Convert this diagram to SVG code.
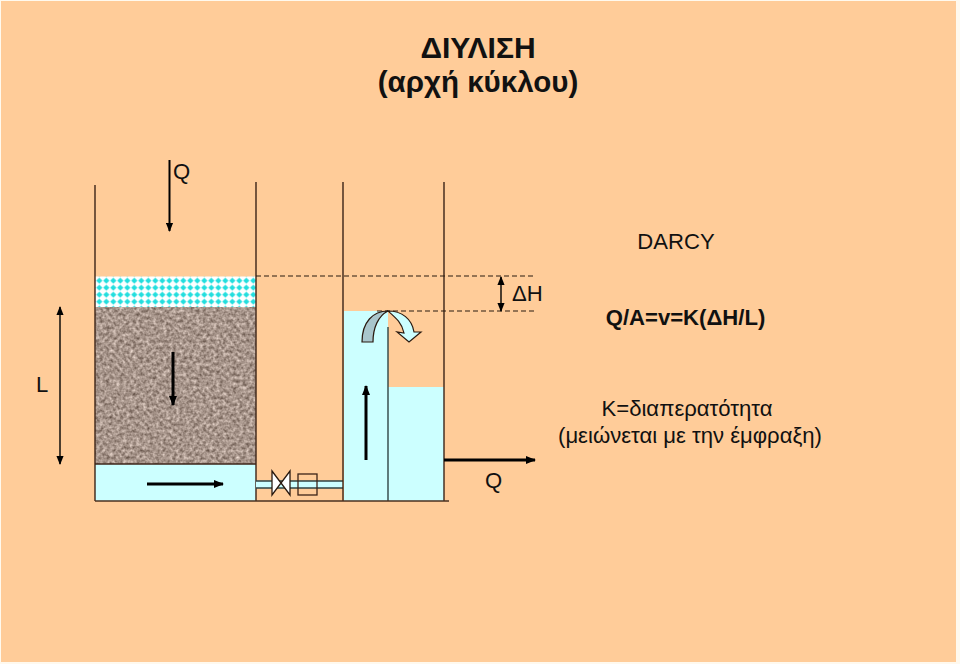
<svg xmlns="http://www.w3.org/2000/svg" width="960" height="664" viewBox="0 0 960 664">
<style>
text{font-family:"Liberation Sans",Arial,"Noto Sans",sans-serif;fill:#111;font-size:22.1px}
.b{font-weight:bold}
.h{font-size:29.5px}
.w{stroke:#3c2418;stroke-width:1.4;fill:none}
.d{stroke:#2a1a10;stroke-width:1.1;stroke-dasharray:5 3;fill:none}
.a{stroke:#000;stroke-width:3;fill:none}
.t{stroke:#000;stroke-width:1.4;fill:none}
.water{fill:#ccffff}
</style>
<defs>
<pattern id="dots" x="95.8" y="277.2" width="7" height="7" patternUnits="userSpaceOnUse">
<rect width="7" height="7" fill="#fff"/>
<path d="M3.5 0.4L6.6 3.5L3.5 6.6L0.4 3.5Z" fill="#22dede"/>
</pattern>
<filter id="grain" x="0" y="0" width="100%" height="100%" color-interpolation-filters="sRGB">
<feTurbulence type="fractalNoise" baseFrequency="0.3" numOctaves="2" seed="7" result="n"/>
<feColorMatrix in="n" type="matrix" values="0.65 0 0 0 0.33  0.65 0 0 0 0.26  0.65 0 0 0 0.22  0 0 0 0 1"/>
</filter>
<marker id="ah" viewBox="0 0 10 8" refX="9" refY="4" markerWidth="9" markerHeight="8" markerUnits="userSpaceOnUse" orient="auto-start-reverse"><path d="M0 0L10 4L0 8Z" fill="#000"/></marker>
<marker id="ahb" viewBox="0 0 10 8" refX="9" refY="4" markerWidth="10" markerHeight="9" markerUnits="userSpaceOnUse" orient="auto"><path d="M0 0L10 4L0 8Z" fill="#000"/></marker>
</defs>
<rect width="960" height="664" fill="#fff9ee"/>
<rect x="1" y="1" width="955" height="661" fill="#ffcc99"/>

<g id="title">
<text class="b h" x="478" y="58" text-anchor="middle" style="font-size:30px">ΔΙΥΛΙΣΗ</text>
<text class="b h" x="478" y="92" text-anchor="middle">(αρχή κύκλου)</text>
</g>

<g id="filter-tank">
<rect x="95" y="276.5" width="161" height="30.5" fill="url(#dots)"/>
<rect x="95" y="307" width="161" height="157" fill="#9a8a80" filter="url(#grain)"/>
<rect x="95" y="464" width="161" height="37" class="water"/>
<path class="w" d="M95 185V501M256 182V501M95 464H256"/>
</g>

<g id="valve-pipe">
<rect x="256" y="481" width="87" height="7" class="water"/>
<path d="M256 481H343M256 488H343" stroke="#2f4444" stroke-width="1.5" fill="none"/>
<path d="M272 471L290 495V471L272 495Z" fill="#fff" stroke="#2a1a10" stroke-width="1.3"/>
<rect x="298" y="474" width="19" height="21" fill="none" stroke="#3c2418" stroke-width="1.3"/>
</g>

<g id="outlet-tank">
<rect x="344" y="311" width="44" height="190" class="water"/>
<rect x="388" y="387" width="56" height="114" class="water"/>
<path class="w" d="M343 182V501M444 182V501"/>
<path d="M388 327V501" stroke="#2f4444" stroke-width="1.4"/>
<path d="M95 501H449" stroke="#4a3020" stroke-width="1.4"/>
</g>

<g id="weir-flow">
<path d="M362 342C362 322 373 311 388 311C378 316 373 328 373 342Z" fill="#a9c6cc" stroke="#2a1a10" stroke-width="1.2"/>
<path d="M388 311C402 311 412 319 414 332L421 332L409 342L397 332L404 333C402 323 396 318 388 311Z" fill="#ccffff" stroke="#2a1a10" stroke-width="1.2"/>
</g>

<g id="connectors">
<path class="d" d="M256 276H536"/>
<path class="d" d="M377 311H535"/>
<path class="t" d="M501 277V311" marker-start="url(#ah)" marker-end="url(#ah)"/>
<path class="t" d="M60 307V464" marker-start="url(#ah)" marker-end="url(#ah)"/>
<path class="a" style="stroke-width:2" d="M169.500 160V231" marker-end="url(#ah)"/>
<path class="a" d="M173 352V405" marker-end="url(#ahb)"/>
<path class="a" d="M147 484H223" marker-end="url(#ahb)"/>
<path class="a" d="M366 460V386" marker-end="url(#ahb)"/>
<path class="a" d="M444 460H535" marker-end="url(#ahb)"/>
</g>

<g id="labels">
<text x="173" y="179">Q</text>
<text x="36" y="392">L</text>
<text x="485" y="488">Q</text>
<text x="512" y="301">ΔΗ</text>
<text x="676" y="249" text-anchor="middle">DARCY</text>
<text class="b" x="685.5" y="325" text-anchor="middle">Q/A=v=K(ΔΗ/L)</text>
<text x="687" y="416" text-anchor="middle">Κ=διαπερατότητα</text>
<text x="690" y="443" text-anchor="middle">(μειώνεται με την έμφραξη)</text>
</g>
</svg>
